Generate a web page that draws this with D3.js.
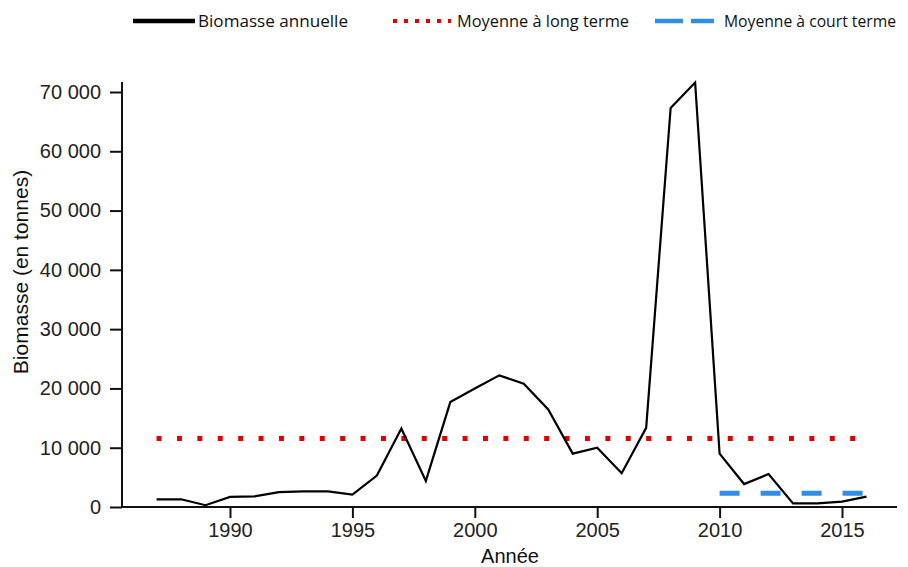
<!DOCTYPE html>
<html>
<head>
<meta charset="utf-8">
<script src="https://cdn.jsdelivr.net/npm/d3@7"></script>
<style>
  body { margin: 0; background: #fff; }
  svg { display: block; }
</style>
</head>
<body>
<svg width="908" height="567"></svg>
<script>
// donnees
const years = [1987, 1988, 1989, 1990, 1991, 1992, 1993, 1994, 1995, 1996,
  1997, 1998, 1999, 2000, 2001, 2002, 2003, 2004, 2005, 2006,
  2007, 2008, 2009, 2010, 2011, 2012, 2013, 2014, 2015, 2016];
const biomass = [1300, 1300, 300, 1700, 1800, 2500, 2650, 2650, 2100, 5300,
  13250, 4400, 17700, 20000, 22200, 20800, 16450, 9000, 10000, 5700,
  13350, 67300, 71600, 9000, 3870, 5550, 600, 600, 900, 1750];
const longTermMean = 11570, longTermYears = [1987, 2016];
const shortTermMean = 2300, shortTermYears = [2010, 2016];
const yTicks = [0, 10000, 20000, 30000, 40000, 50000, 60000, 70000];
const xTicks = [1990, 1995, 2000, 2005, 2010, 2015];
const legendLabels = ["Biomasse annuelle", "Moyenne à long terme", "Moyenne à court terme"];

const svg = d3.select("svg");

// echelles
const x = d3.scaleLinear().domain([1990, 2015]).range([230, 842]);
const y = d3.scaleLinear().domain([0, 70000]).range([507, 92]);

const fmt = d => d3.format(",")(d).replace(/,/g, " ");

// axe y
const yAxis = svg.append("g")
  .attr("transform", "translate(122,0)")
  .call(d3.axisLeft(y).tickValues(yTicks).tickFormat(fmt).tickSize(12).tickPadding(9));
yAxis.select(".domain").attr("d", "M0,82V507");

// axe x
const xAxis = svg.append("g")
  .attr("transform", "translate(0,507)")
  .call(d3.axisBottom(x).tickValues(xTicks).tickFormat(d3.format("d")).tickSize(11).tickPadding(5));
xAxis.select(".domain").attr("d", "M122,0H897");

svg.selectAll(".domain, .tick line").attr("stroke", "#111").attr("stroke-width", 2);
svg.selectAll(".tick text")
  .attr("font-family", "Liberation Sans, Arial, sans-serif")
  .attr("font-size", 20)
  .attr("fill", "#222");

// titres des axes
svg.append("text")
  .attr("transform", "translate(28,272) rotate(-90)")
  .attr("text-anchor", "middle")
  .attr("font-family", "Liberation Sans, Arial, sans-serif")
  .attr("font-size", 21)
  .attr("fill", "#111")
  .text("Biomasse (en tonnes)");

svg.append("text")
  .attr("x", 510).attr("y", 563)
  .attr("text-anchor", "middle")
  .attr("font-family", "Liberation Sans, Arial, sans-serif")
  .attr("font-size", 20)
  .attr("fill", "#111")
  .text("Année");

// moyennes
svg.append("line")
  .attr("x1", x(longTermYears[0])).attr("x2", x(longTermYears[1]) - 6)
  .attr("y1", y(longTermMean)).attr("y2", y(longTermMean))
  .attr("stroke", "#e50000").attr("stroke-width", 5)
  .attr("stroke-dasharray", "5,15.4");

svg.append("line")
  .attr("x1", x(shortTermYears[0])).attr("x2", x(shortTermYears[1]))
  .attr("y1", y(shortTermMean)).attr("y2", y(shortTermMean))
  .attr("stroke", "#2f8fe8").attr("stroke-width", 5)
  .attr("stroke-dasharray", "20,21");

// biomasse annuelle
const line = d3.line().x((d, i) => x(years[i])).y(d => y(d));
svg.append("path")
  .datum(biomass)
  .attr("d", line)
  .attr("fill", "none")
  .attr("stroke", "#000")
  .attr("stroke-width", 2.2)
  .attr("stroke-linejoin", "miter");

// legende
const legend = svg.append("g");
legend.append("line").attr("x1", 133).attr("x2", 195).attr("y1", 21).attr("y2", 21)
  .attr("stroke", "#000").attr("stroke-width", 4.5);
legend.append("line").attr("x1", 393).attr("x2", 451).attr("y1", 21).attr("y2", 21)
  .attr("stroke", "#e50000").attr("stroke-width", 4).attr("stroke-dasharray", "4,7");
legend.append("line").attr("x1", 655).attr("x2", 714).attr("y1", 21).attr("y2", 21)
  .attr("stroke", "#2f8fe8").attr("stroke-width", 4.5).attr("stroke-dasharray", "28,8,23");

legend.selectAll("text")
  .data(legendLabels)
  .enter()
  .append("text")
  .attr("x", (d, i) => [198, 457, 724][i])
  .attr("y", 27)
  .attr("font-family", "Open Sans, sans-serif")
  .attr("font-size", 16)
  .attr("textLength", (d, i) => [150, 172, 172][i])
  .attr("lengthAdjust", "spacingAndGlyphs")
  .attr("fill", "#111")
  .text(d => d);
</script>
</body>
</html>
